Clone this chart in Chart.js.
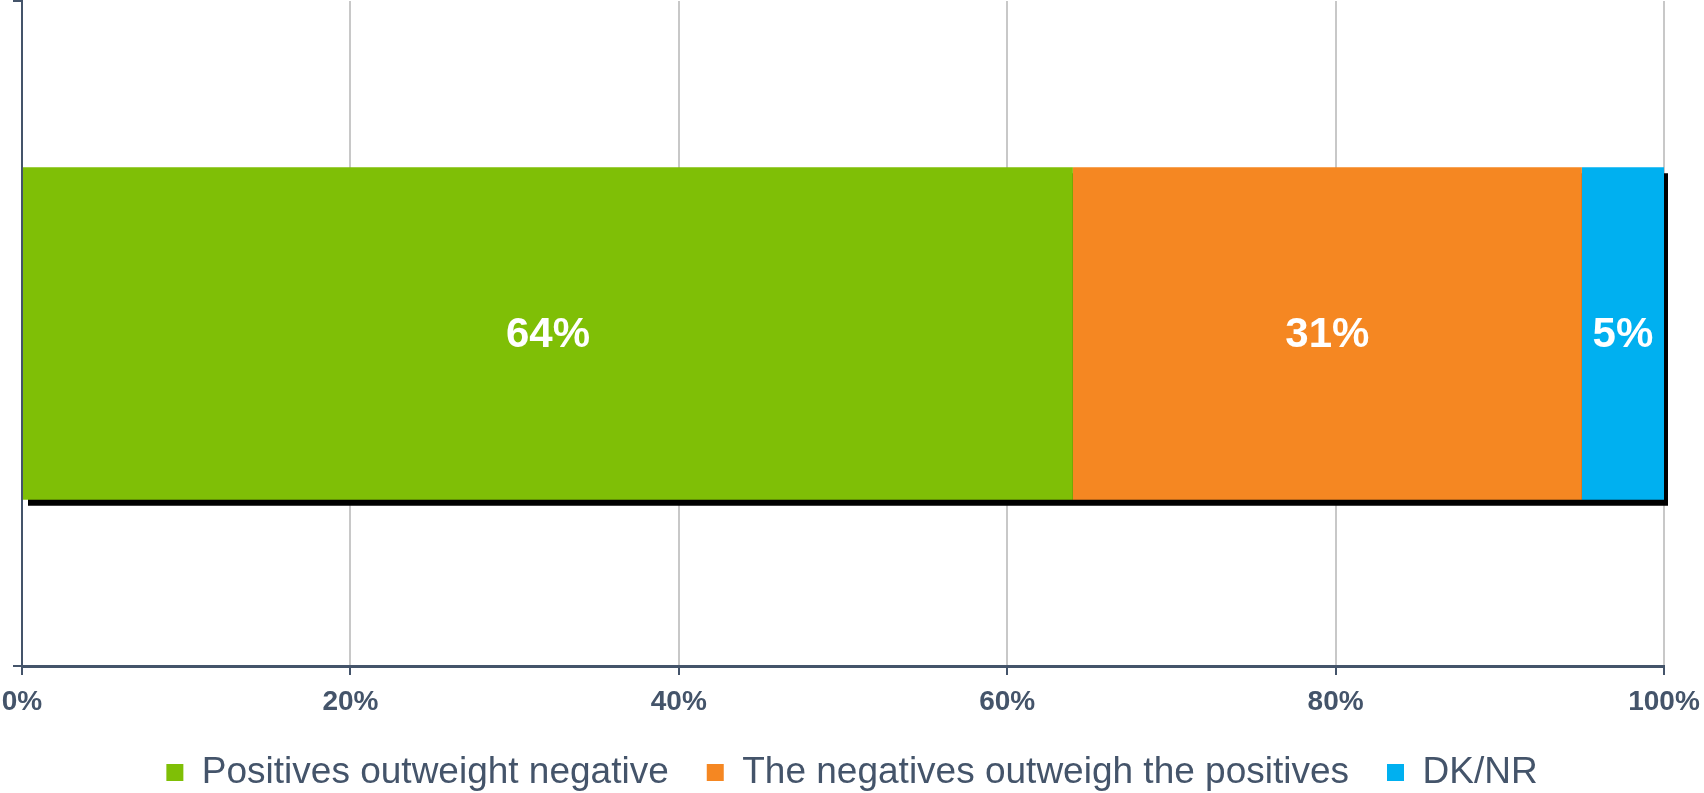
<!DOCTYPE html>
<html>
<head>
<meta charset="utf-8">
<script src="https://cdn.jsdelivr.net/npm/chart.js@4"></script>
<style>
  html, body { margin: 0; padding: 0; background: #fff; }
  #wrap { width: 1704px; height: 793px; }
</style>
</head>
<body>
<div id="wrap"><canvas id="myChart"></canvas></div>
<script>
var categories = [''];
var seriesNames = ['Positives outweight negative', 'The negatives outweigh the positives', 'DK/NR'];
var positives = [64];
var negatives = [31];
var dknr = [5];
var seriesColors = ['#7FBF06', '#F58722', '#00B0F0'];
var xTicks = [0, 20, 40, 60, 80, 100];

var slate = '#44546A';
var fontFamily = '"Liberation Sans", Arial, sans-serif';

// white % labels in the middle of each segment
var segmentLabels = {
  id: 'segmentLabels',
  afterDatasetsDraw: function(chart) {
    var ctx = chart.ctx;
    ctx.save();
    ctx.fillStyle = '#fff';
    ctx.font = 'bold 42px ' + fontFamily;
    ctx.textAlign = 'center';
    ctx.textBaseline = 'middle';
    chart.data.datasets.forEach(function(ds, i) {
      chart.getDatasetMeta(i).data.forEach(function(el, j) {
        var p = el.getCenterPoint();
        ctx.fillText(ds.data[j] + '%', p.x, p.y + 2);
      });
    });
    ctx.restore();
  }
};

// hard black drop shadow behind the whole stacked bar
var barShadow = {
  id: 'barShadow',
  beforeDatasetsDraw: function(chart) {
    var ctx = chart.ctx;
    var n = chart.data.labels.length;
    for (var j = 0; j < n; j++) {
      var left = Infinity, right = -Infinity, top = 0, bottom = 0;
      chart.data.datasets.forEach(function(ds, i) {
        var el = chart.getDatasetMeta(i).data[j];
        if (!el) return;
        var p = el.getProps(['x', 'base', 'y', 'height'], true);
        left = Math.min(left, p.x, p.base);
        right = Math.max(right, p.x, p.base);
        top = p.y - p.height / 2;
        bottom = p.y + p.height / 2;
      });
      ctx.save();
      ctx.fillStyle = '#000';
      ctx.fillRect(left + 5, top + 6, right - left - 1, bottom - top);
      ctx.restore();
    }
  }
};

// fix the legend block height so the row sits where the original has it
var legendHeight = {
  id: 'legendHeight',
  afterInit: function(chart) {
    var lg = chart.legend;
    if (!lg) return;
    var fit = lg.fit;
    lg.fit = function() {
      fit.call(this);
      this.height = 77;
    };
  }
};

var ctx = document.getElementById('myChart').getContext('2d');
var chart = new Chart(ctx, {
  type: 'bar',
  data: {
    labels: categories,
    datasets: [
      { label: seriesNames[0], data: positives, backgroundColor: seriesColors[0] },
      { label: seriesNames[1], data: negatives, backgroundColor: seriesColors[1] },
      { label: seriesNames[2], data: dknr, backgroundColor: seriesColors[2] }
    ]
  },
  options: {
    indexAxis: 'y',
    responsive: true,
    maintainAspectRatio: false,
    animation: false,
    layout: { padding: { top: 1, left: 0, right: 0, bottom: 0 } },
    datasets: {
      bar: { barPercentage: 0.5, categoryPercentage: 1.0, borderWidth: 0 }
    },
    scales: {
      x: {
        stacked: true,
        min: 0,
        max: 100,
        afterBuildTicks: function(scale) {
          scale.ticks = xTicks.map(function(v) { return { value: v }; });
        },
        afterFit: function(scale) {
          scale.height = 50;
          scale.paddingLeft = 0;
          scale.paddingRight = 40;
        },
        ticks: {
          color: slate,
          font: { family: fontFamily, size: 28, weight: 'bold' },
          padding: 10,
          maxRotation: 0,
          callback: function(v) { return v + '%'; }
        },
        grid: { color: '#C8C8C8', lineWidth: 2, tickColor: slate, tickLength: 9 },
        border: { color: slate, width: 3 }
      },
      y: {
        stacked: true,
        afterFit: function(scale) { scale.width = 22; },
        ticks: { display: false },
        grid: { drawOnChartArea: false, color: slate, lineWidth: 2, tickLength: 9, offset: true },
        border: { color: slate, width: 2 }
      }
    },
    plugins: {
      legend: {
        position: 'bottom',
        labels: {
          color: slate,
          font: { family: fontFamily, size: 37 },
          boxWidth: 17,
          boxHeight: 17,
          padding: 38
        }
      },
      tooltip: { enabled: false }
    }
  },
  plugins: [barShadow, segmentLabels, legendHeight]
});
</script>
</body>
</html>
